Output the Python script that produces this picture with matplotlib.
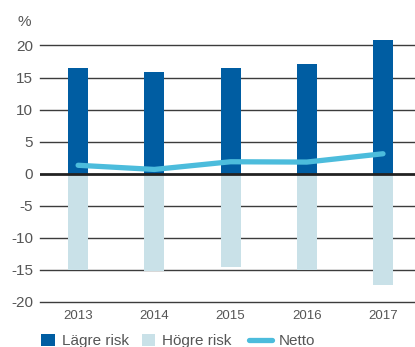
import matplotlib
matplotlib.use("Agg")
import matplotlib.pyplot as plt
import numpy as np
from matplotlib.patches import Patch
from matplotlib.lines import Line2D

years = ["2013", "2014", "2015", "2016", "2017"]
lagre_risk = [16.5, 15.9, 16.5, 17.1, 20.9]
hogre_risk = [-15.0, -15.2, -14.6, -15.0, -17.4]
netto = [1.3, 0.65, 1.85, 1.8, 3.1]
yticks = [-20, -15, -10, -5, 0, 5, 10, 15, 20]

c_dark = "#005da2"
c_light = "#c9e1e8"
c_line = "#4cbcdc"
c_text = "#555555"

plt.rcParams['font.family'] = ['Liberation Sans', 'DejaVu Sans']

fig = plt.figure(figsize=(4.15, 3.47), dpi=100)
ax = fig.add_axes([40/415, 1-301.7/347, 1-40/415, (301.7-45.5)/347])

x = np.arange(len(years))
w = 0.262
b1 = ax.bar(x, lagre_risk, width=w, color=c_dark, zorder=2)
b2 = ax.bar(x, hogre_risk, width=w, color=c_light, zorder=2)
for p in list(b1) + list(b2):
    p.set_clip_on(False)
ax.axhline(0, color="#222222", lw=2, zorder=2.5)
ax.plot(x, netto, color=c_line, lw=3.8, solid_capstyle='round', zorder=3)

ax.set_xlim(-0.5, 4.42)
ax.set_ylim(-20, 20)
ax.set_yticks(yticks)
ax.set_yticklabels([str(v) for v in yticks])
ax.set_xticks(x)
ax.set_xticklabels(years)
for v in yticks:
    if v != 0:
        ax.axhline(v, color="#3c3c3c", lw=1.0, zorder=1, clip_on=False)
for s in ax.spines.values():
    s.set_visible(False)
ax.tick_params(axis='y', length=0, pad=5, labelsize=11, labelcolor=c_text)
ax.tick_params(axis='x', length=0, pad=6, labelsize=9.5, labelcolor=c_text)

fig.text(17/415, 1-22/347, "%", fontsize=11, color=c_text, ha='left', va='center')

h1 = [Patch(facecolor=c_dark, edgecolor='none', label="Lägre risk"),
      Patch(facecolor=c_light, edgecolor='none', label="Högre risk")]
leg1 = fig.legend(handles=h1, loc='center left', bbox_to_anchor=(41/415, 1-341/347),
                  ncol=2, frameon=False, fontsize=11, handlelength=0.9, handleheight=0.9,
                  handletextpad=0.45, columnspacing=0.85, borderpad=0, borderaxespad=0,
                  labelcolor=c_text)
h2 = [Line2D([0], [0], color=c_line, lw=3.8, solid_capstyle='round', label="Netto")]
leg2 = fig.legend(handles=h2, loc='center left', bbox_to_anchor=(249/415, 1-341/347),
                  frameon=False, fontsize=11, handlelength=1.5, handletextpad=0.45,
                  borderpad=0, borderaxespad=0, labelcolor=c_text)

fig.savefig("out.png", dpi=100)
